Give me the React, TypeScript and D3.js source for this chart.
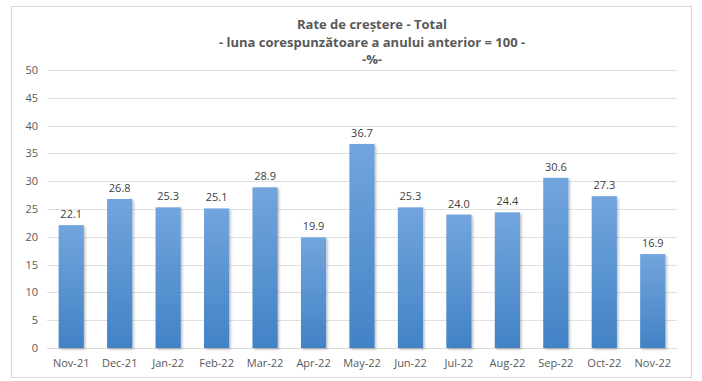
import React from "react";
import * as d3 from "d3";

const categories = ["Nov-21","Dec-21","Jan-22","Feb-22","Mar-22","Apr-22","May-22","Jun-22","Jul-22","Aug-22","Sep-22","Oct-22","Nov-22"];
const values = [22.1,26.8,25.3,25.1,28.9,19.9,36.7,25.3,24.0,24.4,30.6,27.3,16.9];
const yTicks = [0,5,10,15,20,25,30,35,40,45,50];
const titleLines = ["Rate de creștere - Total","- luna corespunzătoare a anului anterior = 100 -","-%-"];

const W = 702, H = 381;
const font = "'Open Sans', 'Noto Sans', sans-serif";

export default function App() {
  const x = d3.scaleBand<string>().domain(categories).range([47, 677]).paddingInner(0.48).paddingOuter(0.24);
  const y = d3.scaleLinear().domain([0, 50]).range([348, 70]);
  return (
    <svg width={W} height={H} style={{ position: "absolute", left: 0, top: 0 }}>
      <defs>
        <linearGradient id="barGrad" x1="0" y1="0" x2="0" y2="1">
          <stop offset="0%" stopColor="#72a5dd" />
          <stop offset="100%" stopColor="#4282c6" />
        </linearGradient>
        <filter id="sh" x="-30%" y="-10%" width="160%" height="130%">
          <feDropShadow dx="1.5" dy="1.5" stdDeviation="1.2" floodColor="#000" floodOpacity="0.25" />
        </filter>
      </defs>
      <rect x={0} y={0} width={W} height={H} fill="#fff" />
      <rect x={11.5} y={6.5} width={680} height={371} fill="#fff" stroke="#d9d9d9" strokeWidth={1} />
      {titleLines.map((t, i) => (
        <text key={i} x={372} y={29 + i * 17.5} textAnchor="middle" fontFamily={font} fontWeight="bold" fontSize={13} fill="#595959">{t}</text>
      ))}
      {yTicks.map(t => (
        <g key={t}>
          <line x1={47} x2={677} y1={Math.round(y(t)) + 0.5} y2={Math.round(y(t)) + 0.5} stroke={t === 0 ? "#d9d9d9" : "#e0e0e0"} strokeWidth={1} />
          <text x={38} y={y(t) + 4} textAnchor="end" fontFamily={font} fontSize={11} fill="#595959">{t}</text>
        </g>
      ))}
      {categories.map((c, i) => (
        <g key={c}>
          <rect x={x(c)} y={y(values[i])} width={x.bandwidth()} height={y(0) - y(values[i])} fill="url(#barGrad)" filter="url(#sh)" />
          <text x={x(c)! + x.bandwidth() / 2} y={y(values[i]) - 7} textAnchor="middle" fontFamily={font} fontSize={11} fill="#404040">{values[i].toFixed(1)}</text>
          <text x={x(c)! + x.bandwidth() / 2} y={367} textAnchor="middle" fontFamily={font} fontSize={11} fill="#595959">{c}</text>
        </g>
      ))}
    </svg>
  );
}
